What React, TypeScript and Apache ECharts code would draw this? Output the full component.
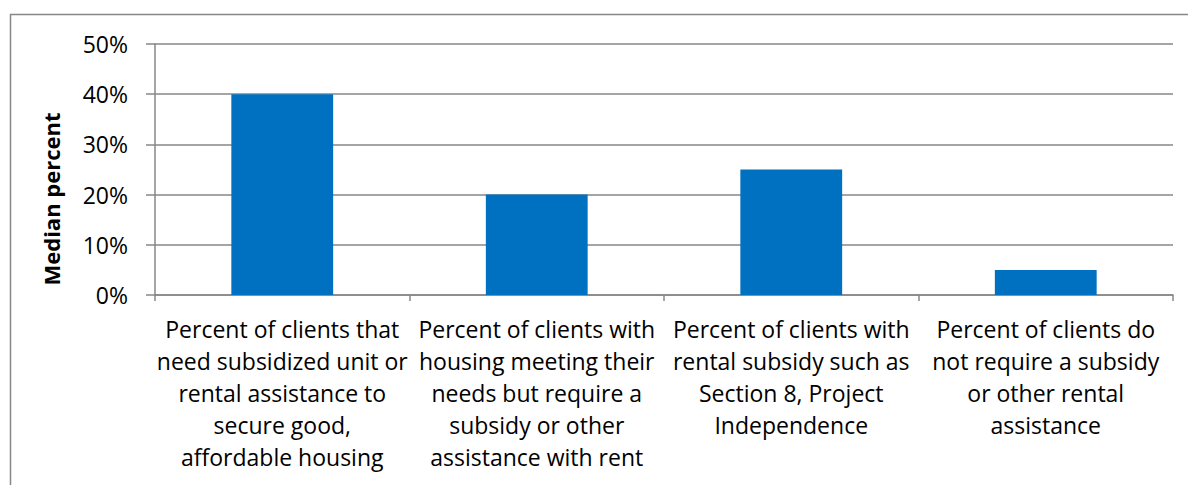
import React, { useEffect, useRef } from "react";
import * as echarts from "echarts";

const categories = [
  "Percent of clients that\nneed subsidized unit or\nrental assistance to\nsecure good,\naffordable housing",
  "Percent of clients with\nhousing meeting their\nneeds but require a\nsubsidy or other\nassistance with rent",
  "Percent of clients with\nrental subsidy such as\nSection 8, Project\nIndependence",
  "Percent of clients do\nnot require a subsidy\nor other rental\nassistance",
];
const values = [40, 20, 25, 5];
const yAxisName = "Median percent";
const yMax = 50;
const yInterval = 10;

const FONT = "'Open Sans', sans-serif";

export default function App() {
  const ref = useRef<HTMLDivElement>(null);
  useEffect(() => {
    document.body.style.margin = "0";
    const chart = echarts.init(ref.current!, null, { renderer: "svg" });
    chart.setOption({
      animation: false,
      backgroundColor: "#fff",
      graphic: [
        {
          type: "rect",
          shape: { x: 10.5, y: 14.5, width: 1200, height: 500 },
          style: { fill: "none", stroke: "#878787", lineWidth: 1.5 },
          silent: true,
        },
        {
          type: "text",
          x: 51,
          y: 199,
          rotation: Math.PI / 2,
          style: {
            text: yAxisName,
            fill: "#000",
            font: `bold 22px ${FONT}`,
            align: "center",
            verticalAlign: "middle",
          },
        },
      ],
      grid: { left: 155, right: 15, top: 44, bottom: 190, containLabel: false },
      xAxis: {
        type: "category",
        data: categories,
        axisLine: { lineStyle: { color: "#878787", width: 1.5 } },
        axisTick: { show: true, alignWithLabel: false, length: 6, lineStyle: { color: "#878787", width: 1.5 } },
        axisLabel: {
          interval: 0,
          color: "#000",
          fontFamily: FONT,
          fontSize: 23,
          lineHeight: 32,
          margin: 18,
          align: "center",
        },
      },
      yAxis: {
        type: "value",
        min: 0,
        max: yMax,
        interval: yInterval,
        axisLine: { show: true, lineStyle: { color: "#878787", width: 1.5 } },
        axisTick: { show: true, length: 9, lineStyle: { color: "#878787", width: 1.5 } },
        splitLine: { lineStyle: { color: "#878787", width: 1.5 } },
        axisLabel: {
          color: "#000",
          fontFamily: FONT,
          fontSize: 23,
          margin: 27,
          formatter: "{value}%",
        },
      },
      series: [
        {
          type: "bar",
          data: values,
          barWidth: "40%",
          itemStyle: { color: "#0070C0" },
        },
      ],
    });
    return () => chart.dispose();
  }, []);
  return <div ref={ref} style={{ width: 1188, height: 485 }} />;
}
